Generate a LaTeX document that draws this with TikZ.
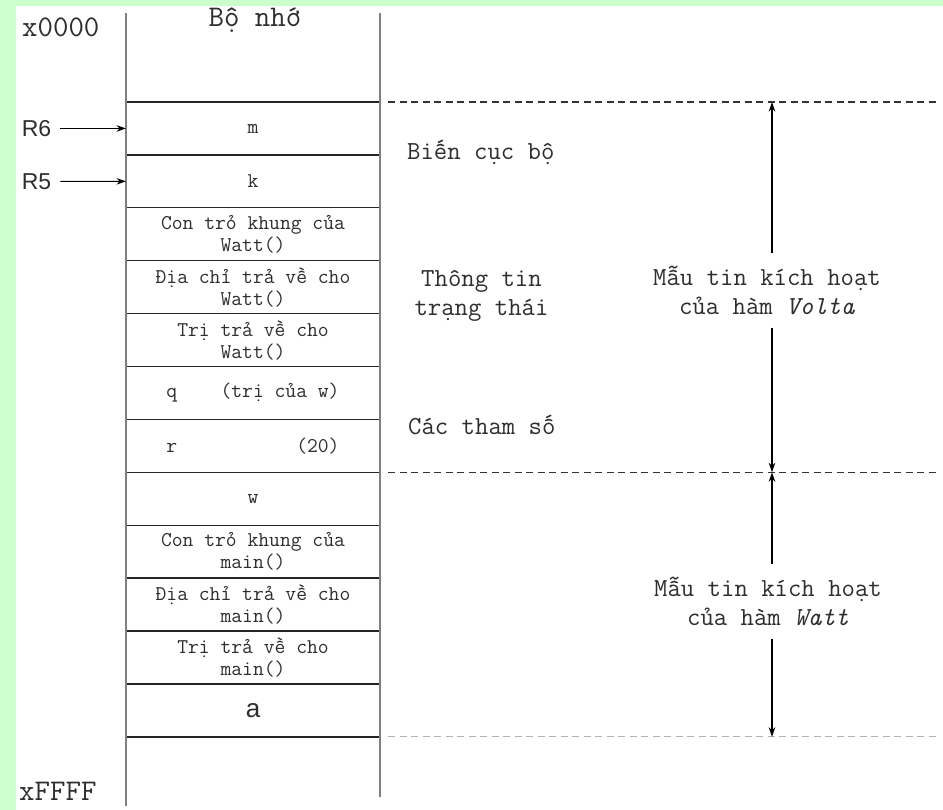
\documentclass[tikz,border=0pt]{standalone}
\usepackage{fontspec}
\newfontfamily\sansf{Liberation Sans}
\usetikzlibrary{arrows.meta,positioning}

\definecolor{pagegreen}{HTML}{CCFFCC}
\definecolor{ink}{HTML}{2E2E2E}

\begin{document}
\begin{tikzpicture}[x=1pt,y=-1pt,>={Stealth[length=9.5pt,width=6.5pt]},
  cell/.style={draw=black!85,line width=1.4pt,outer sep=0pt,inner sep=0pt,minimum width=254pt,minimum height=52.9pt,align=center,text=ink,font=\ttfamily\fontsize{21}{22}\selectfont},
  note/.style={inner sep=0pt,align=center,text=ink,font=\ttfamily\fontsize{26}{29}\selectfont},
  frametag/.style={note,minimum height=74pt},
  addr/.style={inner sep=0pt,text=ink,font=\ttfamily\fontsize{30}{32}\selectfont},
  reg/.style={inner xsep=9pt,inner ysep=0pt,text=ink,font=\sansf\fontsize{23}{26}\selectfont},
  wall/.style={draw=black!50,line width=2pt},
  framedash/.style={dash pattern=on 7pt off 4.5pt,line width=1.3pt},
  arrow/.style={->,line width=1.3pt}]
\fill[pagegreen] (0,0) rectangle (943,810);
\fill[white] (16,6) rectangle (943,810);
\useasboundingbox (0,0) rectangle (943,810);

\node[addr,anchor=west] (lo) at (22,27) {x0000};
\node[addr,anchor=base] (mem) at (255,27) {Bộ nhớ};
\node[addr,anchor=base west] (hi) at (19,800) {xFFFF};

% stack cells, top to bottom
\node[cell] (m) at (253,128.45) {m};
\node[cell,below=0pt of m] (k) {k};
\node[cell,below=0pt of k] (fpw) {Con trỏ khung của\\Watt()};
\node[cell,below=0pt of fpw] (raw) {Địa chỉ trả về cho\\Watt()};
\node[cell,below=0pt of raw] (rvw) {Trị trả về cho\\Watt()};
\node[cell,below=0pt of rvw] (q) {q~~~~(trị của w)};
\node[cell,below=0pt of q] (r) {r~~~~~~~~~~~(20)};
\node[cell,below=0pt of r] (w) {w};
\node[cell,below=0pt of w] (fpm) {Con trỏ khung của\\main()};
\node[cell,below=0pt of fpm] (ram) {Địa chỉ trả về cho\\main()};
\node[cell,below=0pt of ram] (rvm) {Trị trả về cho\\main()};
\node[cell,below=0pt of rvm,font=\sansf\fontsize{26}{30}\selectfont] (a) {a};

\draw[wall] (126,13) -- (126,806);
\draw[wall] (380,13) -- (380,797);

% registers
\node[reg] (r6) at (36.5,128.45) {R6};
\node[reg] (r5) at (36.5,181.35) {R5};
\draw[arrow,line width=1.1pt] (r6) -- (m.west);
\draw[arrow,line width=1.1pt] (r5) -- (k.west);

% frame limits
\draw[framedash,draw=black!80] (388,102) -- (936,102);
\draw[framedash,draw=black!80] (388,472.3) -- (936,472.3);
\draw[framedash,draw=black!30] (388,736.8) -- (936,736.8);

\node[note,anchor=west] (locals) at (407,152) {Biến cục bộ};
\node[note] (state) at (481.5,296) {Thông tin\\trạng thái};
\node[note,anchor=west] (params) at (408,425) {Các tham số};

\coordinate (vtop) at (772,102);
\coordinate (vbot) at (772,472.3);
\coordinate (wtop) at (772,472.3);
\coordinate (wbot) at (772,736.8);
\node[frametag] (volta) at (767,290.5) {Mẫu tin kích hoạt\\của hàm \textit{Volta}};
\node[frametag] (watt) at (768,601.5) {Mẫu tin kích hoạt\\của hàm \textit{Watt}};
\draw[arrow] (vtop |- volta.north) -- (vtop);
\draw[arrow] (vbot |- volta.south) -- (vbot);
\draw[arrow] (wtop |- watt.north) -- (wtop);
\draw[arrow] (wbot |- watt.south) -- (wbot);
\end{tikzpicture}
\end{document}
